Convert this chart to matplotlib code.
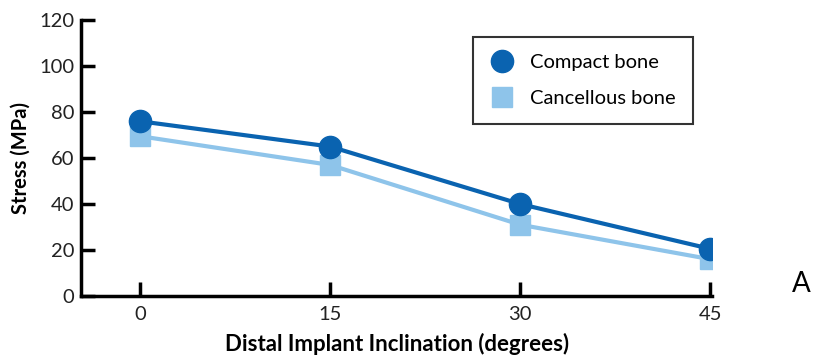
import matplotlib.pyplot as plt

# Stress vs. distal implant inclination
inclination = [0, 15, 30, 45]
compact = [76, 65, 40, 20.5]
cancellous = [69.5, 57, 31, 16]

plt.rcParams['font.family'] = ['Lato', 'DejaVu Sans']

fig = plt.figure(figsize=(8.14, 3.59), dpi=100)
ax = fig.add_axes([0.0995, 0.1755, 0.7755, 0.7685])

ax.plot(inclination, cancellous, color='#8ec4ea', linewidth=3, marker='s',
        markersize=15, label='Cancellous bone', zorder=2)
ax.plot(inclination, compact, color='#0a63b0', linewidth=3, marker='o',
        markersize=16, label='Compact bone', zorder=3)

ax.set_xlim(-4.66, 45.15)
ax.set_ylim(0, 120)
ax.set_xticks(inclination)
ax.set_yticks(range(0, 121, 20))

for side in ['top', 'right']:
    ax.spines[side].set_visible(False)
for side in ['left', 'bottom']:
    ax.spines[side].set_linewidth(2.5)
ax.tick_params(direction='in', length=10, width=2.5, labelsize=14.5,
               colors='black', labelcolor='#222222')
ax.tick_params(axis='x', pad=7)
ax.tick_params(axis='y', pad=5)

ax.set_xlabel('Distal Implant Inclination (degrees)', fontsize=16,
              fontweight='bold', labelpad=7)
ax.set_ylabel('Stress (MPa)', fontsize=14.5, fontweight='bold', labelpad=6)

handles, labels = ax.get_legend_handles_labels()
leg = ax.legend(handles[::-1], labels[::-1], loc='upper left',
                bbox_to_anchor=(0.6205, 0.94), frameon=True, fancybox=False,
                fontsize=14.5, handlelength=1.2, handletextpad=0.8,
                borderpad=0.85, labelspacing=0.95, borderaxespad=0)
leg.get_frame().set_edgecolor('black')
leg.get_frame().set_linewidth(1.5)
for h in leg.legend_handles:
    h.set_linestyle('none')

fig.text(0.985, 0.21, 'A', fontsize=20, ha='center', va='center')

fig.savefig('out.png', dpi=100)
